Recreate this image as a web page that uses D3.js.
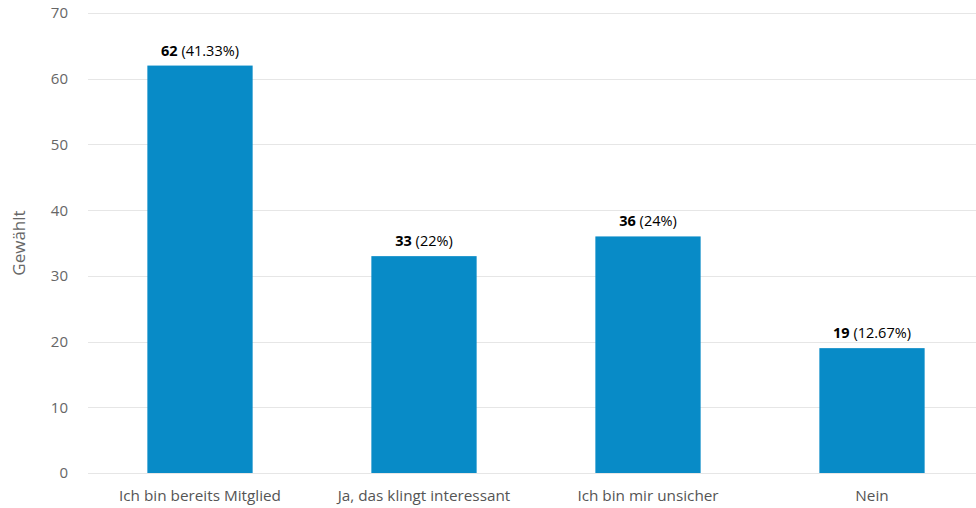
<!DOCTYPE html>
<html>
<head>
<meta charset="utf-8">
<script src="https://cdn.jsdelivr.net/npm/d3@7"></script>
<style>
body { margin: 0; background: #fff; }
text { font-family: "Open Sans", sans-serif; }
</style>
</head>
<body>
<div class="chart"></div>
<script>
var categories = ["Ich bin bereits Mitglied", "Ja, das klingt interessant", "Ich bin mir unsicher", "Nein"];
var votes = [62, 33, 36, 19];
var shares = ["41.33%", "22%", "24%", "12.67%"];
var yTicks = [0, 10, 20, 30, 40, 50, 60, 70];

var svgWidth = 976;
var svgHeight = 508;

var svg = d3.select(".chart")
	.append("svg")
	.attr("width", svgWidth)
	.attr("height", svgHeight);

var x = d3.scaleBand()
	.domain(categories)
	.range([88, 984])
	.paddingInner(0.53)
	.paddingOuter(0.265);

var y = d3.scaleLinear()
	.domain([0, 70])
	.range([473, 13]);

// gridlines
svg.append("g")
	.selectAll("line")
	.data(yTicks)
	.enter().append("line")
		.attr("x1", 88)
		.attr("x2", svgWidth)
		.attr("y1", function(d){ return Math.round(y(d)) + 0.5; })
		.attr("y2", function(d){ return Math.round(y(d)) + 0.5; })
		.attr("stroke", "#e6e6e6")
		.attr("stroke-width", 1);

// y axis labels
svg.append("g")
	.selectAll("text")
	.data(yTicks)
	.enter().append("text")
		.attr("x", 68)
		.attr("y", function(d){ return y(d); })
		.attr("dy", "0.36em")
		.attr("text-anchor", "end")
		.attr("fill", "#666")
		.style("font-size", "15px")
		.text(function(d){ return d; });

svg.append("text")
	.attr("transform", "translate(25," + y(35) + ") rotate(-90)")
	.attr("text-anchor", "middle")
	.attr("fill", "#666")
	.style("font-size", "17px")
	.text("Gewählt");

// bars
svg.append("g")
	.selectAll("rect")
	.data(votes)
	.enter().append("rect")
		.attr("x", function(d, i){ return x(categories[i]); })
		.attr("y", function(d){ return y(d); })
		.attr("width", x.bandwidth())
		.attr("height", function(d){ return y(0) - y(d); })
		.attr("fill", "#088bc7");

// value labels
var labels = svg.append("g")
	.selectAll("text")
	.data(votes)
	.enter().append("text")
		.attr("x", function(d, i){ return x(categories[i]) + x.bandwidth() / 2; })
		.attr("y", function(d){ return y(d) - 10; })
		.attr("text-anchor", "middle")
		.attr("fill", "#000")
		.style("font-size", "14.5px");

labels.append("tspan")
	.style("font-weight", "bold")
	.text(function(d){ return d; });

labels.append("tspan")
	.text(function(d, i){ return " (" + shares[i] + ")"; });

// x axis labels
svg.append("g")
	.selectAll("text")
	.data(categories)
	.enter().append("text")
		.attr("x", function(d){ return x(d) + x.bandwidth() / 2; })
		.attr("y", 501)
		.attr("text-anchor", "middle")
		.attr("fill", "#555")
		.style("font-size", "15.3px")
		.text(function(d){ return d; });
</script>
</body>
</html>
